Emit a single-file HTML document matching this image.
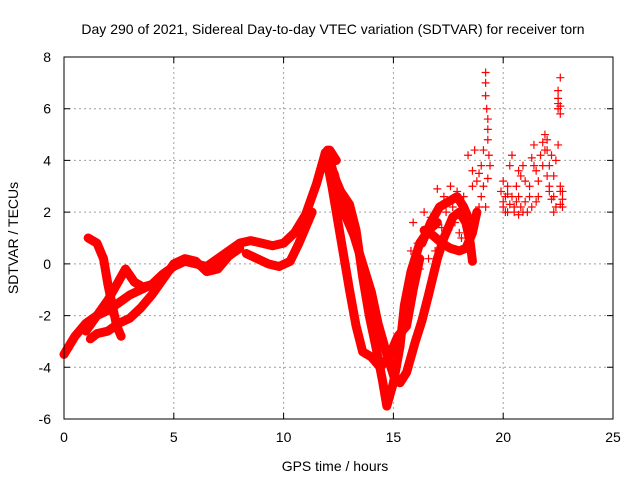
<!DOCTYPE html>
<html><head><meta charset="utf-8"><style>
body{margin:0;background:#fff;}
svg{display:block;font-family:"Liberation Sans",sans-serif;}
</style></head><body>
<svg id="chart" width="640" height="480" viewBox="0 0 640 480" xmlns="http://www.w3.org/2000/svg">
<rect width="640" height="480" fill="#fff"/>
<text x="333" y="34" font-size="14" text-anchor="middle">Day 290 of 2021, Sidereal Day-to-day VTEC variation (SDTVAR) for receiver torn</text>
<g id="grid"></g>
<g id="marks"></g>
<rect x="64" y="57" width="549" height="362" fill="none" stroke="#000" stroke-width="1"/>
<g id="axes"></g>
<text transform="translate(18,238) rotate(-90)" font-size="14" text-anchor="middle">SDTVAR / TECUs</text>
<text x="335" y="471" font-size="14" text-anchor="middle">GPS time / hours</text>
</svg>
<script>
const xTicks=[0,5,10,15,20,25];
const yTicks=[-6,-4,-2,0,2,4,6,8];
const trackA=[[0,-3.5],[0.5,-2.8],[1,-2.3],[1.5,-2.0],[2,-1.8],[2.5,-1.5],[3,-1.2],[3.5,-1.0],[4,-0.8],[4.5,-0.4],[5,-0.1],[5.5,0.1],[6,0.0],[6.5,-0.1],[7,0.2],[7.5,0.5],[8,0.8],[8.5,0.9],[9,0.8],[9.5,0.7],[10,0.8],[10.5,1.2],[11,1.9],[11.5,3.1],[11.9,4.3],[12.1,4.4],[12.4,4.0]];
const trackB=[[1.2,-2.9],[1.5,-2.7],[2,-2.6],[2.5,-2.3],[3,-2.1],[3.5,-1.7],[4,-1.2],[4.5,-0.6],[5,0.0],[5.5,0.2],[6,0.1],[6.5,-0.3],[7,-0.2],[7.5,0.3],[8,0.6]];
const trackC=[[1.0,-2.6],[1.5,-2.0],[2,-1.4],[2.4,-0.8],[2.8,-0.2],[3.2,-0.7],[3.6,-0.9],[4.0,-0.8]];
const trackD=[[1.1,1.0],[1.5,0.8],[1.8,0.2],[2.0,-0.8],[2.2,-1.6],[2.4,-2.4],[2.6,-2.8]];
const trackE=[[8.3,0.4],[8.8,0.2],[9.3,0.0],[9.8,-0.1],[10.3,0.1],[10.7,0.8],[11.0,1.4],[11.3,2.0]];
const trackF=[[12.0,4.4],[12.3,3.4],[12.6,2.8],[13.0,2.3],[13.3,1.3],[13.6,-0.5],[13.9,-2.0],[14.2,-3.2],[14.5,-4.5],[14.7,-5.5],[15.0,-4.6],[15.3,-3.2],[15.5,-1.6],[15.8,-0.3],[16.2,0.8],[16.6,1.3],[17.0,1.6]];
const trackG=[[11.9,4.3],[12.2,3.0],[12.6,1.0],[13.0,-1.0],[13.3,-2.4],[13.6,-3.4],[14.0,-3.6],[14.4,-4.0],[14.8,-3.6],[15.2,-2.8],[15.6,-2.4],[15.9,-1.0],[16.2,0.2]];
const trackH=[[12.3,3.5],[12.7,2.1],[13.2,1.1],[13.6,0.0],[14.0,-1.1],[14.3,-2.3],[14.7,-3.5],[15.0,-4.3],[15.3,-4.6],[15.6,-4.2],[16.0,-3.0],[16.3,-2.2],[16.6,-1.2],[17.0,0.2],[17.3,1.0],[17.7,1.8],[18.0,2.0],[18.3,1.6],[18.5,0.8],[18.6,0.1]];
const trackI=[[16.4,1.3],[16.8,1.1],[17.2,0.8],[17.6,0.6],[18.0,0.5],[18.3,0.6],[18.6,1.2],[18.8,2.0]];
const trackJ=[[16.3,0.8],[16.7,1.6],[17.1,2.2],[17.5,2.4],[17.9,2.6],[18.2,2.2],[18.4,1.8]];
const scatter=[[15.9,1.6],[16.1,0.8],[16.4,2.0],[16.7,1.8],[17.0,2.9],[17.3,2.6],[17.6,3.0],[17.9,2.8],[18.2,2.6],[18.0,1.2],[18.4,4.2],[18.6,3.6],[18.7,4.4],[18.9,3.5],[19.0,3.8],[19.1,4.4],[19.2,7.4],[19.2,7.0],[19.2,6.5],[19.25,6.0],[19.3,5.6],[19.3,5.2],[19.3,4.8],[19.35,4.2],[19.4,3.8],[19.1,3.0],[19.3,3.3],[20.0,3.2],[20.0,2.4],[20.1,2.0],[20.2,2.7],[20.3,3.8],[20.4,4.2],[20.5,2.2],[20.6,3.0],[20.7,2.6],[20.8,3.4],[20.9,3.8],[21.0,2.4],[21.1,2.0],[21.2,3.0],[21.3,4.1],[21.4,4.6],[21.5,2.4],[21.6,3.2],[21.8,4.7],[21.9,5.0],[22.0,4.4],[22.1,3.8],[22.1,3.0],[22.2,4.2],[22.3,2.6],[22.4,2.2],[22.5,6.4],[22.5,6.0],[22.6,5.8],[22.6,7.2],[22.6,3.0],[22.7,2.2],[22.7,2.5],[22.5,6.7],[22.4,4.0],
[19.9,2.8],[20.0,2.2],[20.1,2.6],[20.2,2.0],[20.2,3.0],[20.3,2.3],[20.4,2.6],[20.5,2.0],[20.6,2.4],[20.7,3.6],[20.7,1.9],[20.8,2.2],[20.9,2.0],[21.0,3.2],[21.2,2.6],[21.3,2.2],[21.4,3.8],[21.5,3.6],[21.6,2.6],[21.7,4.2],[21.8,3.8],[21.9,4.4],[22.0,3.4],[22.0,4.8],[22.1,2.8],[22.2,2.5],[22.3,3.4],[22.3,2.0],[22.5,6.2],[22.6,6.1],[22.6,2.8],[22.6,2.3],[22.7,2.8],[22.5,4.6],
[18.6,3.0],[18.8,3.2],[18.9,2.2],[19.0,2.6],[19.2,2.2],[17.2,1.4],[17.5,1.3],[17.8,1.6],[18.1,1.0],[16.6,0.2],[16.9,0.5],[17.4,2.0],[17.7,2.2],[16.2,-0.2],[15.8,0.5],[16.0,-0.6]];
const tracks=[trackA,trackB,trackC,trackD,trackE,trackF,trackG,trackH,trackI,trackJ];
const X0=64,X1=613,Y0=419,Y1=57,XMIN=0,XMAX=25,YMIN=-6,YMAX=8;
function sx(t){return X0+(t-XMIN)/(XMAX-XMIN)*(X1-X0);}
function sy(v){return Y0-(v-YMIN)/(YMAX-YMIN)*(Y0-Y1);}
const NS="http://www.w3.org/2000/svg";
const grid=document.getElementById('grid'),axes=document.getElementById('axes'),marks=document.getElementById('marks');
function mk(tag,attrs,parent){const e=document.createElementNS(NS,tag);for(const k in attrs)e.setAttribute(k,attrs[k]);parent.appendChild(e);return e;}
xTicks.forEach(t=>{
  const x=sx(t);
  if(t>XMIN&&t<XMAX){const g=mk('line',{x1:x,y1:Y0,x2:x,y2:Y1,stroke:'#a0a0a0','stroke-dasharray':'2,3'},grid);
  
  }
  const tk=mk('path',{d:`M${x},${Y0}v-6M${x},${Y1}v6`,stroke:'#000'},axes);
  
  
  const lb=mk('text',{x:x,y:442,'font-size':14,'text-anchor':'middle'},axes);lb.textContent=t;
  
  
});
yTicks.forEach(v=>{
  const y=sy(v);
  if(v>YMIN&&v<YMAX){const g=mk('line',{x1:X0,y1:y,x2:X1,y2:y,stroke:'#a0a0a0','stroke-dasharray':'2,3'},grid);
  
  }
  const tk=mk('path',{d:`M${X0},${y}h6M${X1},${y}h-6`,stroke:'#000'},axes);
  
  
  const lb=mk('text',{x:51,y:y+5,'font-size':14,'text-anchor':'end'},axes);lb.textContent=v;
  
  
});
function plus(t,v){
  const x=sx(t),y=sy(v);
  const p=mk('path',{d:`M${x-4},${y}h8M${x},${y-4}v8`,stroke:'#f00','stroke-width':1.2,fill:'none'},marks);
  
  
}
tracks.forEach(tr=>{
  const pl=mk('polyline',{points:tr.map(p=>sx(p[0])+','+sy(p[1])).join(' '),fill:'none',stroke:'#f00','stroke-width':9,'stroke-linejoin':'round','stroke-linecap':'round'},marks);
  
  
  tr.forEach(p=>plus(p[0],p[1]));
});
scatter.forEach(p=>plus(p[0],p[1]));
</script>
</body></html>
